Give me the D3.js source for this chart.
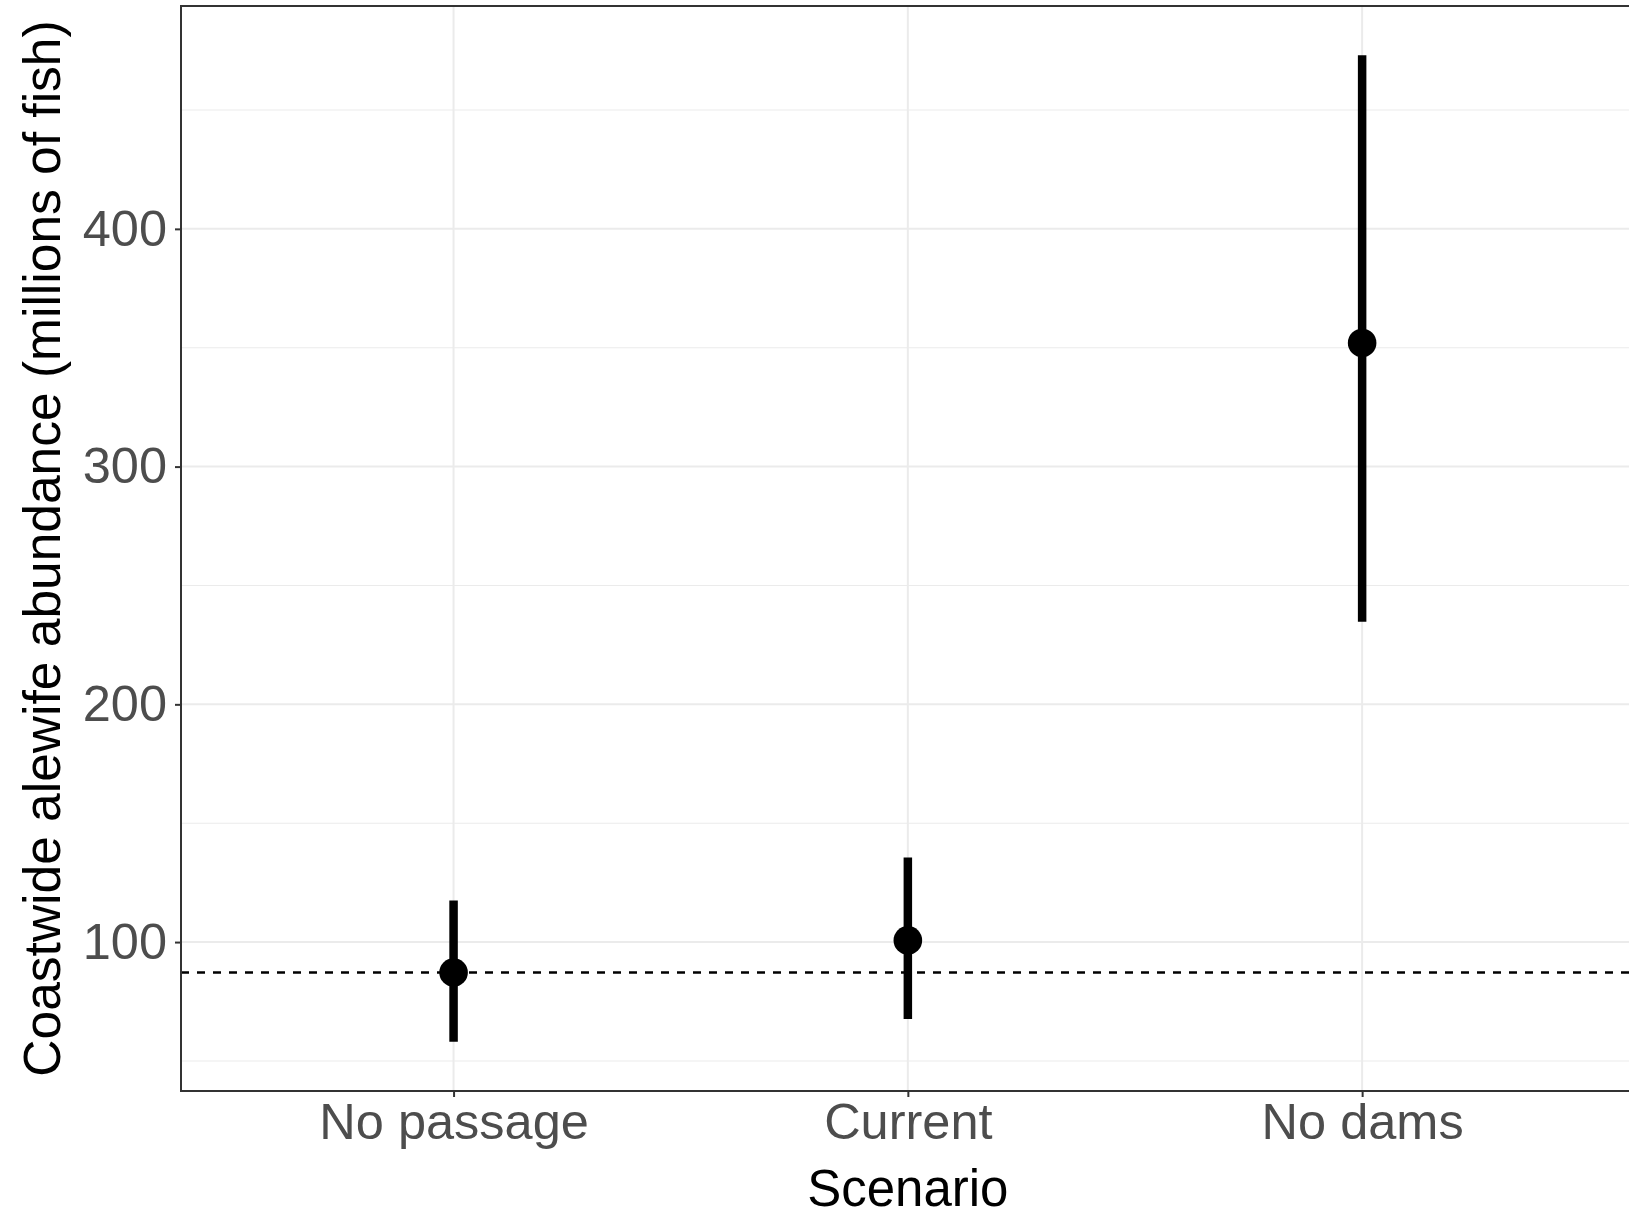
<!DOCTYPE html>
<html>
<head>
<meta charset="utf-8">
<script src="https://cdn.jsdelivr.net/npm/d3@7"></script>
<style>
  html, body { margin: 0; padding: 0; background: #ffffff; }
  svg { display: block; }
  text { font-family: "Liberation Sans", Arial, Helvetica, sans-serif; }
</style>
</head>
<body>
<div id="chart"></div>
<script>
// ---- Data ----
const categories = ["No passage", "Current", "No dams"];
const estimates  = [87.2, 100.7, 352.0];
const lowerCI    = [58.1, 67.6, 234.7];
const upperCI    = [117.5, 135.6, 473.0];
const referenceLine = 87.2;
const yMajorTicks = [100, 200, 300, 400];
const yMinorTicks = [50, 150, 250, 350, 450];
const xTitle = "Scenario";
const yTitle = "Coastwide alewife abundance (millions of fish)";

// ---- Layout ----
const W = 1629, H = 1215;
const panel = { left: 181, top: 6, right: 1634.7, bottom: 1091 };

const svg = d3.select("#chart").append("svg")
  .attr("width", W).attr("height", H);

// y scale with ggplot-style 5% expansion
const lo = d3.min(lowerCI), hi = d3.max(upperCI);
const pad = (hi - lo) * 0.05;
const y = d3.scaleLinear().domain([lo - pad, hi + pad]).range([panel.bottom, panel.top]);
const x = d3.scalePoint().domain(categories).range([panel.left, panel.right]).padding(0.6);

// panel background
svg.append("rect")
  .attr("x", panel.left).attr("y", panel.top)
  .attr("width", panel.right - panel.left).attr("height", panel.bottom - panel.top)
  .attr("fill", "#ffffff");

// minor grid
svg.append("g").selectAll("line").data(yMinorTicks).join("line")
  .attr("x1", panel.left).attr("x2", panel.right)
  .attr("y1", d => y(d)).attr("y2", d => y(d))
  .attr("stroke", "#ebebeb").attr("stroke-width", 1.1);

// major grid
svg.append("g").selectAll("line").data(yMajorTicks).join("line")
  .attr("x1", panel.left).attr("x2", panel.right)
  .attr("y1", d => y(d)).attr("y2", d => y(d))
  .attr("stroke", "#ebebeb").attr("stroke-width", 2);
svg.append("g").selectAll("line").data(categories).join("line")
  .attr("x1", d => x(d)).attr("x2", d => x(d))
  .attr("y1", panel.top).attr("y2", panel.bottom)
  .attr("stroke", "#ebebeb").attr("stroke-width", 2);

// dashed reference line
svg.append("line")
  .attr("x1", panel.left).attr("x2", panel.right)
  .attr("y1", y(referenceLine)).attr("y2", y(referenceLine))
  .attr("stroke", "#000").attr("stroke-width", 2.3)
  .attr("stroke-dasharray", "8,8");

// error bars
const rows = categories.map((c, i) => ({ c, est: estimates[i], lo: lowerCI[i], hi: upperCI[i] }));
svg.append("g").selectAll("line").data(rows).join("line")
  .attr("x1", d => x(d.c)).attr("x2", d => x(d.c))
  .attr("y1", d => y(d.lo)).attr("y2", d => y(d.hi))
  .attr("stroke", "#000").attr("stroke-width", 8.5);

// points
svg.append("g").selectAll("circle").data(rows).join("circle")
  .attr("cx", d => x(d.c)).attr("cy", d => y(d.est))
  .attr("r", 14.3).attr("fill", "#000");

// panel border
svg.append("rect")
  .attr("x", panel.left).attr("y", panel.top)
  .attr("width", panel.right - panel.left).attr("height", panel.bottom - panel.top)
  .attr("fill", "none").attr("stroke", "#333333").attr("stroke-width", 2);

// axes
const yAxis = svg.append("g")
  .attr("transform", `translate(${panel.left},0)`)
  .call(d3.axisLeft(y).tickValues(yMajorTicks).tickSize(6).tickPadding(8));
const xAxis = svg.append("g")
  .attr("transform", `translate(0,${panel.bottom})`)
  .call(d3.axisBottom(x).tickSize(6).tickPadding(6));
[yAxis, xAxis].forEach(g => {
  g.select(".domain").remove();
  g.selectAll(".tick line").attr("stroke", "#333333").attr("stroke-width", 2);
  g.selectAll(".tick text")
    .attr("fill", "#4d4d4d")
    .style("font-size", "50.5px")
    .style("font-family", "'Liberation Sans', Arial, sans-serif");
});

// axis titles
svg.append("text")
  .attr("x", (panel.left + panel.right) / 2).attr("y", 1206)
  .attr("text-anchor", "middle")
  .style("font-size", "51px").attr("fill", "#000")
  .text(xTitle);

svg.append("text")
  .attr("transform", `translate(60,${(panel.top + panel.bottom) / 2}) rotate(-90)`)
  .attr("text-anchor", "middle")
  .style("font-size", "51.5px").attr("fill", "#000")
  .text(yTitle);
</script>
</body>
</html>
